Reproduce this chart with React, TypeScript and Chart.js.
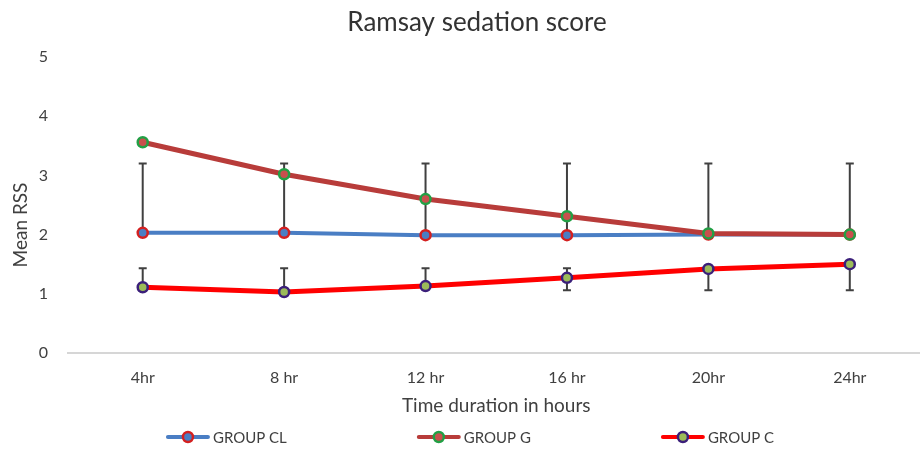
import React, { useEffect, useRef } from "react";
import { Chart, registerables } from "chart.js";

Chart.register(...registerables);

const categories = ["4hr", "8 hr", "12 hr", "16 hr", "20hr", "24hr"];
const groupCL = [2.03, 2.03, 1.99, 1.99, 2.0, 2.0];
const groupG = [3.56, 3.02, 2.6, 2.31, 2.02, 2.0];
const groupC = [1.11, 1.03, 1.13, 1.27, 1.42, 1.5];
const clErrHigh = [3.2, 3.2, 3.2, 3.2, 3.2, 3.2];
const cErrHigh: (number | null)[] = [1.43, 1.43, 1.43, 1.43, null, null];
const cErrLow: (number | null)[] = [null, null, null, 1.06, 1.06, 1.06];
const yTicks = [0, 1, 2, 3, 4, 5];
const chartTitle = "Ramsay sedation score";
const yTitle = "Mean RSS";

const FONT = "Lato, 'Open Sans', sans-serif";
const TEXT = "#404040";

const errorBarPlugin = {
  id: "errorBars",
  beforeDatasetsDraw(chart: any) {
    const { ctx, scales, chartArea } = chart;
    const x = scales.x;
    const y = scales.y;
    ctx.save();
    // category axis line (extends a little left of the plot like the original)
    ctx.strokeStyle = "#c8c8c8";
    ctx.lineWidth = 1.5;
    ctx.beginPath();
    ctx.moveTo(chartArea.left - 5, chartArea.bottom);
    ctx.lineTo(chart.width, chartArea.bottom);
    ctx.stroke();

    ctx.strokeStyle = "#404040";
    ctx.lineWidth = 2;
    const draw = (vals: number[], ends: (number | null)[]) => {
      ends.forEach((e, i) => {
        if (e === null || e === undefined) return;
        const px = x.getPixelForValue(i);
        const p0 = y.getPixelForValue(vals[i]);
        const p1 = y.getPixelForValue(e);
        ctx.beginPath();
        ctx.moveTo(px, p0);
        ctx.lineTo(px, p1);
        ctx.moveTo(px - 4, p1);
        ctx.lineTo(px + 4, p1);
        ctx.stroke();
      });
    };
    draw(groupCL, clErrHigh);
    draw(groupC, cErrHigh);
    draw(groupC, cErrLow);
    ctx.restore();
  },
};

const titlesPlugin = {
  id: "titles",
  afterDraw(chart: any) {
    const { ctx, chartArea } = chart;
    ctx.save();
    ctx.fillStyle = "#333333";
    ctx.textAlign = "center";
    ctx.textBaseline = "middle";
    ctx.font = `26px ${FONT}`;
    ctx.fillText(chartTitle, 477, 23);
    ctx.translate(21, (chartArea.top + chartArea.bottom) / 2 + 20);
    ctx.rotate(-Math.PI / 2);
    ctx.font = `19px ${FONT}`;
    ctx.fillStyle = TEXT;
    ctx.fillText(yTitle, 0, 0);
    ctx.restore();
  },
};

const customLegend = {
  id: "customLegend",
  afterDraw(chart: any) {
    const { ctx } = chart;
    const ds = chart.data.datasets;
    const iconW = 44;
    const gapText = 3;
    const gapItem = 130;
    const cy = 437;
    ctx.save();
    ctx.font = `15px ${FONT}`;
    const widths = ds.map((d: any) => iconW + gapText + ctx.measureText(d.label).width);
    const total = widths.reduce((a: number, b: number) => a + b, 0) + gapItem * (ds.length - 1);
    let x = (920 - total) / 2 + 10;
    ds.forEach((d: any, i: number) => {
      ctx.lineCap = "round";
      ctx.strokeStyle = d.borderColor;
      ctx.lineWidth = 4;
      ctx.beginPath();
      ctx.moveTo(x + 2, cy);
      ctx.lineTo(x + iconW - 2, cy);
      ctx.stroke();
      ctx.beginPath();
      ctx.arc(x + iconW / 2, cy, 5, 0, Math.PI * 2);
      ctx.fillStyle = d.pointBackgroundColor;
      ctx.fill();
      ctx.lineWidth = 2.5;
      ctx.strokeStyle = d.pointBorderColor;
      ctx.stroke();
      ctx.fillStyle = TEXT;
      ctx.textBaseline = "middle";
      ctx.textAlign = "left";
      ctx.fillText(d.label, x + iconW + gapText, cy + 1);
      x += widths[i] + gapItem;
    });
    ctx.restore();
  },
};

export default function App() {
  const ref = useRef<HTMLCanvasElement>(null);
  useEffect(() => {
    document.body.style.margin = "0";
    const chart = new Chart(ref.current!, {
      type: "line",
      data: {
        labels: categories,
        datasets: [
          {
            label: "GROUP CL",
            data: groupCL,
            order: 2,
            borderColor: "#4a7ec4",
            borderWidth: 4,
            backgroundColor: "#4a7ec4",
            pointBackgroundColor: "#4a7ec4",
            pointBorderColor: "#d42020",
            pointBorderWidth: 2.5,
            pointRadius: 5,
          },
          {
            label: "GROUP G",
            data: groupG,
            order: 1,
            borderColor: "#b83c3a",
            borderWidth: 5,
            backgroundColor: "#c9504d",
            pointBackgroundColor: "#c9504d",
            pointBorderColor: "#22a045",
            pointBorderWidth: 2.5,
            pointRadius: 5,
          },
          {
            label: "GROUP C",
            data: groupC,
            order: 0,
            borderColor: "#ff0000",
            borderWidth: 5,
            backgroundColor: "#9bbb59",
            pointBackgroundColor: "#9bbb59",
            pointBorderColor: "#3b1f7a",
            pointBorderWidth: 2.5,
            pointRadius: 5,
          },
        ],
      },
      options: {
        animation: false,
        responsive: false,
        maintainAspectRatio: false,
        layout: { padding: { left: 0, right: 0, top: 57, bottom: 30 } },
        plugins: {
          title: { display: false },
          legend: { display: false },
          tooltip: { enabled: false },
        },
        scales: {
          x: {
            offset: true,
            afterFit: (s: any) => {
              s.height = 68;
              s.paddingLeft = 0;
              s.paddingRight = 0;
            },
            grid: { display: false, drawTicks: false },
            border: { display: false },
            ticks: { color: TEXT, font: { family: FONT, size: 16 }, padding: 15 },
            title: {
              display: true,
              text: "Time duration in hours",
              color: TEXT,
              font: { family: FONT, size: 19 },
              padding: { top: 6, bottom: 4 },
            },
          },
          y: {
            min: 0,
            max: 5,
            afterBuildTicks: (s: any) => {
              s.ticks = yTicks.map((v) => ({ value: v }));
            },
            afterFit: (s: any) => {
              s.width = 72;
            },
            grid: { display: false, drawTicks: false },
            border: { display: false },
            ticks: { color: TEXT, font: { family: FONT, size: 16 }, padding: 24 },
          },
        },
      },
      plugins: [errorBarPlugin, titlesPlugin, customLegend],
    });
    return () => chart.destroy();
  }, []);
  return (
    <div style={{ width: 920, height: 451, background: "#fff", overflow: "hidden" }}>
      <canvas ref={ref} width={928} height={451} style={{ display: "block" }} />
    </div>
  );
}
